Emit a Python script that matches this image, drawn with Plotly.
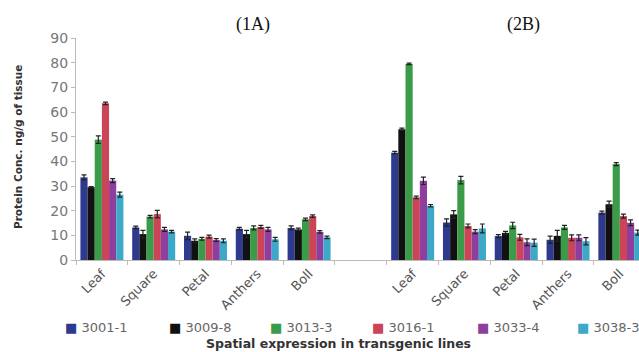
import plotly.graph_objects as go

# Tissue categories for the two panels (1A and 2B), with an empty slot between them
tissues = ["Leaf", "Square", "Petal", "Anthers", "Boll"]
positions = [0, 1, 2, 3, 4, 6, 7, 8, 9, 10]
tick_labels = tissues + tissues

lines = ["3001-1", "3009-8", "3013-3", "3016-1", "3033-4", "3038-3"]

# Protein concentration (ng/g of tissue): panel 1A then panel 2B
v_3001_1 = [33.5, 13.2, 9.8, 12.7, 13.0, 43.5, 15.2, 9.7, 8.2, 19.2]
v_3009_8 = [29.5, 10.5, 7.8, 10.5, 12.4, 53.0, 18.5, 11.0, 9.8, 22.6]
v_3013_3 = [48.8, 17.6, 8.6, 13.0, 16.5, 79.5, 32.4, 14.0, 13.2, 38.9]
v_3016_1 = [63.5, 18.6, 9.5, 13.4, 17.8, 25.4, 13.8, 9.2, 9.0, 17.8]
v_3033_4 = [32.2, 12.4, 8.1, 12.4, 11.4, 32.1, 11.5, 7.2, 9.0, 15.1]
v_3038_3 = [26.5, 11.5, 7.8, 8.4, 9.2, 22.0, 12.8, 7.0, 7.6, 11.1]

# Standard errors
e_3001_1 = [1.0, 0.5, 1.5, 0.5, 0.8, 0.5, 1.5, 0.6, 1.5, 0.6]
e_3009_8 = [0.3, 1.5, 0.8, 1.5, 0.5, 0.5, 1.5, 0.6, 2.2, 1.3]
e_3013_3 = [1.5, 0.5, 0.6, 0.8, 0.5, 0.3, 1.5, 1.3, 0.8, 0.6]
e_3016_1 = [0.5, 1.5, 0.6, 0.6, 0.5, 0.5, 0.8, 1.2, 1.2, 0.8]
e_3033_4 = [0.8, 0.8, 0.6, 0.8, 0.5, 1.5, 0.8, 1.4, 1.2, 1.2]
e_3038_3 = [1.0, 0.5, 0.8, 0.8, 0.5, 0.5, 1.8, 1.5, 1.5, 1.0]

values = [v_3001_1, v_3009_8, v_3013_3, v_3016_1, v_3033_4, v_3038_3]
errors = [e_3001_1, e_3009_8, e_3013_3, e_3016_1, e_3033_4, e_3038_3]
colors = ["#2E3A8E", "#111111", "#3A9B48", "#CC4458", "#8E3F9E", "#3CA9C9"]

fig = go.Figure()
for name, vals, errs, col in zip(lines, values, errors, colors):
    fig.add_trace(go.Bar(
        x=positions, y=vals, name=name,
        marker=dict(color=col, line=dict(width=0)),
        error_y=dict(type="data", array=errs, color="#222222", thickness=1.2, width=2.5),
        showlegend=False,
    ))

sans = "DejaVu Sans, sans-serif"
label_font = dict(family=sans, size=13, color="#555555")

fig.update_layout(
    width=639, height=352,
    margin=dict(l=76, r=0, t=38, b=92),
    paper_bgcolor="white", plot_bgcolor="white",
    barmode="group", bargap=0.17, bargroupgap=0,
    font=label_font,
    xaxis=dict(
        range=[-0.5, 10.37],
        tickmode="array", tickvals=positions, ticktext=tick_labels,
        tickangle=-45, ticks="", showgrid=False, zeroline=False,
        showline=True, linecolor="#BBBBBB", linewidth=1,
        tickfont=label_font,
        minor=dict(ticks="outside", tick0=-0.5, dtick=1, ticklen=4,
                   tickcolor="#BBBBBB", showgrid=False),
    ),
    yaxis=dict(
        range=[0, 90], tickmode="linear", tick0=0, dtick=10,
        ticks="outside", ticklen=4, tickcolor="#BBBBBB",
        showgrid=False, zeroline=False,
        showline=True, linecolor="#BBBBBB", linewidth=1,
        tickfont=dict(family=sans, size=14, color="#777777"),
    ),
)

annotations = [
    dict(text="(1A)", x=253, y=25, font=dict(family="Liberation Serif, serif", size=18, color="#111111")),
    dict(text="(2B)", x=523, y=25, font=dict(family="Liberation Serif, serif", size=18, color="#111111")),
    dict(text="<b>Spatial expression in transgenic lines</b>", x=338, y=343,
         font=dict(family=sans, size=12.5, color="#333333")),
    dict(text="<b>Protein Conc. ng/g of tissue</b>", x=18, y=147, textangle=-90,
         font=dict(family=sans, size=10.5, color="#333333")),
]

# Legend row along the bottom
legend_x = [68, 172, 273, 375, 480, 580]
for name, col, lx in zip(lines, colors, legend_x):
    annotations.append(dict(
        text=f"<span style='color:{col}'>■</span> {name}", x=lx - 5, y=327, xanchor="left",
        font=dict(family=sans, size=13, color="#666666"),
    ))

for a in annotations:
    a.setdefault("xanchor", "center")
    a.update(xref="paper", yref="paper", showarrow=False, yanchor="middle")
    a["x"] = (a["x"] - 76) / (639 - 76)
    a["y"] = (260 - a["y"]) / (260 - 38)
fig.update_layout(annotations=annotations)

fig.write_html("out.html")
